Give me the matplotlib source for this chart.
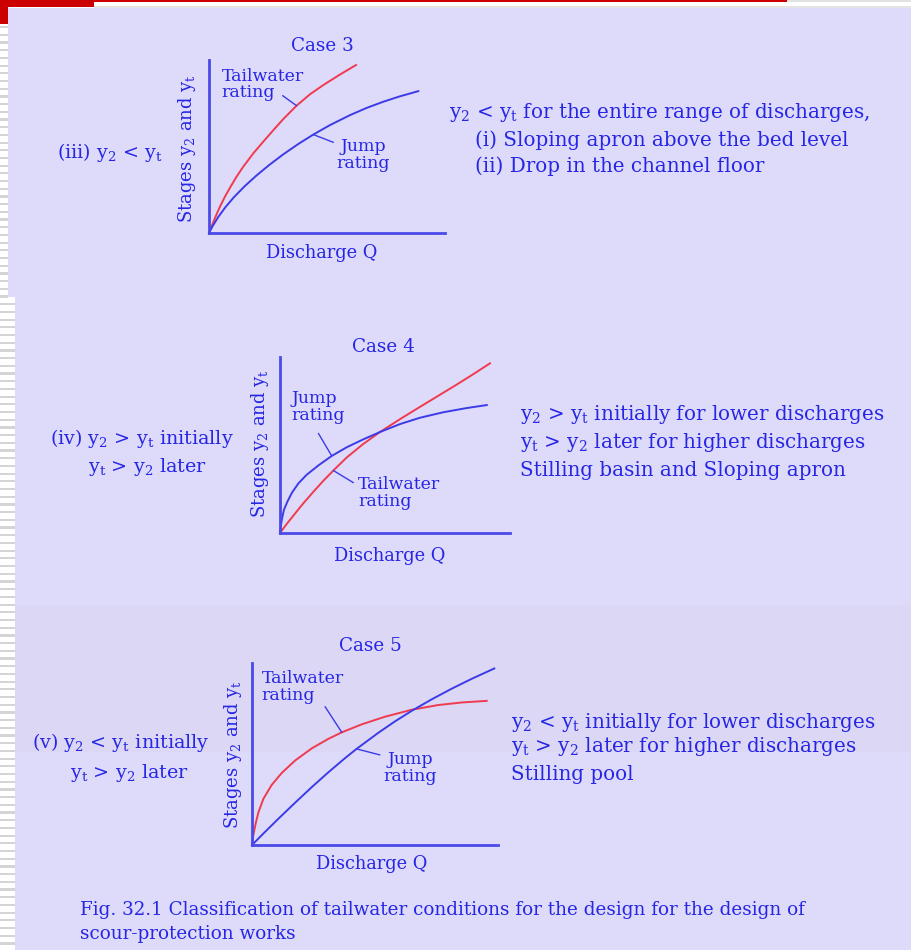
import matplotlib
matplotlib.use("Agg")
import matplotlib.pyplot as plt
from matplotlib.patches import Rectangle

plt.rcParams["font.family"] = ["DejaVu Serif"]
plt.rcParams["mathtext.fontset"] = "custom"
plt.rcParams["mathtext.rm"] = "DejaVu Serif"
plt.rcParams["mathtext.it"] = "DejaVu Serif:italic"

# ---- rating curves (Q, stage) for each case, axes run 0..10 ----
case3_tail_q = [0, 0.18, 0.32, 0.47, 0.68, 0.89, 1.17, 1.45, 1.88, 2.30, 2.73,
                3.15, 3.71, 4.28, 4.84, 5.55, 6.23]
case3_tail_y = [0, 0.62, 1.08, 1.54, 2.11, 2.62, 3.26, 3.83, 4.61, 5.28, 5.95,
                6.59, 7.36, 8.02, 8.55, 9.16, 9.71]
case3_jump_q = [0, 0.15, 0.40, 0.70, 1.05, 1.50, 2.00, 2.55, 3.15, 3.80, 4.42,
                5.13, 5.97, 6.68, 7.39, 8.09, 8.87]
case3_jump_y = [0, 0.39, 0.94, 1.50, 2.06, 2.69, 3.31, 3.93, 4.55, 5.16, 5.69,
                6.24, 6.81, 7.23, 7.59, 7.90, 8.20]

case4_tail_q = [0, 0.29, 0.65, 1.01, 1.45, 1.88, 2.32, 2.90, 3.62, 4.35, 5.22,
                6.09, 6.81, 7.68, 8.41, 9.13]
case4_tail_y = [0, 0.51, 1.10, 1.68, 2.34, 2.96, 3.55, 4.29, 5.06, 5.74, 6.47,
                7.17, 7.74, 8.43, 9.03, 9.64]
case4_jump_q = [0, 0.03, 0.09, 0.17, 0.32, 0.52, 0.80, 1.16, 1.67, 2.25, 2.90,
                3.62, 4.35, 5.22, 6.09, 7.10, 8.12, 8.99]
case4_jump_y = [0, 0.36, 0.83, 1.31, 1.78, 2.29, 2.82, 3.31, 3.84, 4.38, 4.87,
                5.32, 5.74, 6.19, 6.55, 6.86, 7.10, 7.27]

case5_tail_q = [0, 0.05, 0.15, 0.26, 0.46, 0.80, 1.21, 1.75, 2.43, 3.10, 3.65,
                4.46, 5.41, 6.49, 7.57, 8.52, 9.54]
case5_tail_y = [0, 0.51, 1.19, 1.79, 2.53, 3.30, 3.96, 4.64, 5.31, 5.83, 6.19,
                6.63, 7.05, 7.43, 7.69, 7.83, 7.92]
case5_jump_q = [0, 0.53, 1.07, 1.75, 2.43, 3.10, 3.78, 4.25, 5.14, 5.81, 6.49,
                7.30, 8.12, 8.93, 9.85]
case5_jump_y = [0, 0.72, 1.44, 2.32, 3.18, 3.99, 4.77, 5.28, 6.17, 6.79, 7.37,
                8.00, 8.59, 9.13, 9.70]

case_titles = ["Case 3", "Case 4", "Case 5"]
xlabel_text = "Discharge Q"
ylabel_text = r"Stages $\mathrm{y_2}$ and $\mathrm{y_t}$"

Y2 = r"$\mathrm{y_2}$"
YT = r"$\mathrm{y_t}$"
left_notes = [
    [f"(iii) {Y2} < {YT}"],
    [f"(iv) {Y2} > {YT} initially", f"{YT} > {Y2} later"],
    [f"(v) {Y2} < {YT} initially", f"{YT} > {Y2} later"],
]
right_notes = [
    [f"{Y2} < {YT} for the entire range of discharges,",
     "(i) Sloping apron above the bed level",
     "(ii) Drop in the channel floor"],
    [f"{Y2} > {YT} initially for lower discharges",
     f"{YT} > {Y2} later for higher discharges",
     "Stilling basin and Sloping apron"],
    [f"{Y2} < {YT} initially for lower discharges",
     f"{YT} > {Y2} later for higher discharges",
     "Stilling pool"],
]
caption_lines = [
    "Fig. 32.1 Classification of tailwater conditions for the design for the design of",
    "scour-protection works",
]

TEXT = "#2626e4"
RED = "#f03a4e"
BLUE = "#3b3be8"
AXIS = "#4a4ae8"
LAV = "#dedafa"

W, H = 911, 950
fig = plt.figure(figsize=(W / 100, H / 100), dpi=100)
fig.patch.set_facecolor("white")

# page decoration in pixel units
bg = fig.add_axes([0, 0, 1, 1])
bg.set_xlim(0, W)
bg.set_ylim(H, 0)
bg.axis("off")
bg.set_zorder(0)

bg.add_patch(Rectangle((8, 8), W - 8, 289, color=LAV, lw=0))
bg.add_patch(Rectangle((15, 297), W - 15, H - 297, color=LAV, lw=0))
bg.add_patch(Rectangle((15, 605), W - 15, 147, color="#d9d6f0", lw=0, alpha=0.6))
# striped margin
y = 26
while y < H:
    x_right = 8 if y < 297 else 15
    bg.add_patch(Rectangle((0, y), x_right, 2.2, color="#d4d4d4", lw=0))
    y += 7.7
# header bars
bg.add_patch(Rectangle((0, 0), 94, 7, color="#cc0000", lw=0))
bg.add_patch(Rectangle((0, 0), 8, 24, color="#cc0000", lw=0))
bg.add_patch(Rectangle((94, 0), 693, 2, color="#cc0000", lw=0))
bg.add_patch(Rectangle((787, 0), W - 787, 1.5, color="#e2e2e2", lw=0))
bg.add_patch(Rectangle((94, 6), W - 94, 1.5, color="#e4e4e4", lw=0))

left_pos = [[(57, 153)], [(50, 438), (88, 467)], [(32, 742), (70, 773)]]
right_pos = [[(449, 113), (475, 140), (475, 166)],
             [(520, 415), (520, 442), (520, 470)],
             [(511, 722), (511, 747), (511, 774)]]
for notes, pos in zip(left_notes, left_pos):
    for s, (x, yy) in zip(notes, pos):
        bg.text(x, yy, s, color=TEXT, fontsize=13.8, ha="left", va="center")
for notes, pos in zip(right_notes, right_pos):
    for s, (x, yy) in zip(notes, pos):
        bg.text(x, yy, s, color=TEXT, fontsize=14.3, ha="left", va="center")
for s, yy in zip(caption_lines, [910, 934]):
    bg.text(80, yy, s, color=TEXT, fontsize=13.2, ha="left", va="center")

# chart panels: pixel boxes (left, right, top, bottom)
boxes = [(209, 445, 60, 233), (280, 510, 357, 533), (252, 498, 663, 845)]
xlab_pos = [(0.479, -0.116), (0.478, -0.131), (0.488, -0.104)]
ylab_pos = [(-0.093, 0.49), (-0.087, 0.51), (-0.077, 0.495)]
title_pos = [(0.479, 1.08), (0.448, 1.057), (0.48, 1.093)]

curves = [
    ((case3_tail_q, case3_tail_y), (case3_jump_q, case3_jump_y)),
    ((case4_tail_q, case4_tail_y), (case4_jump_q, case4_jump_y)),
    ((case5_tail_q, case5_tail_y), (case5_jump_q, case5_jump_y)),
]
# curve labels: (text, x, y, ha, leader start, index of curve point, which curve)
labels = [
    [("Tailwater\nrating", 0.54, 8.6, "left", (3.12, 7.94), 12, 0),
     ("Jump\nrating", 6.53, 4.51, "center", (5.27, 5.24), 10, 1)],
    [("Jump\nrating", 0.51, 7.16, "left", (1.67, 5.66), 9, 1),
     ("Tailwater\nrating", 3.39, 2.27, "left", (3.19, 2.86), 6, 0)],
    [("Tailwater\nrating", 0.39, 8.68, "left", (2.97, 7.60), 10, 0),
     ("Jump\nrating", 6.42, 4.23, "center", (5.20, 4.95), 7, 1)],
]

for i, (l, r, t, b) in enumerate(boxes):
    ax = fig.add_axes([l / W, 1 - b / H, (r - l) / W, (b - t) / H])
    ax.set_zorder(2)
    ax.patch.set_alpha(0)
    ax.set_xlim(0, 10)
    ax.set_ylim(0, 10)
    for side in ("top", "right"):
        ax.spines[side].set_visible(False)
    for side in ("left", "bottom"):
        ax.spines[side].set_color(AXIS)
        ax.spines[side].set_linewidth(2)
    ax.set_xticks([])
    ax.set_yticks([])

    (tq, ty), (jq, jy) = curves[i]
    ax.plot(tq, ty, color=RED, lw=1.4, solid_joinstyle="round", clip_on=False)
    ax.plot(jq, jy, color=BLUE, lw=1.4, solid_joinstyle="round", clip_on=False)

    ax.set_xlabel(xlabel_text, color=TEXT, fontsize=12.8, va="center")
    ax.xaxis.set_label_coords(*xlab_pos[i])
    ax.set_ylabel(ylabel_text, color=TEXT, fontsize=13.0, va="center")
    ax.yaxis.set_label_coords(*ylab_pos[i])
    ax.text(*title_pos[i], case_titles[i], transform=ax.transAxes, color=TEXT,
            fontsize=13.2, ha="center", va="center")

    for txt, x, yy, ha, start, idx, which in labels[i]:
        q, s = curves[i][which]
        ax.text(x, yy, txt, color=TEXT, fontsize=12.5, ha=ha, va="center",
                linespacing=0.95)
        ax.annotate("", xy=(q[idx], s[idx]), xytext=start,
                    arrowprops=dict(arrowstyle="-", color=BLUE, lw=1.0,
                                    shrinkA=0, shrinkB=0))

fig.savefig("out.png", dpi=100)
